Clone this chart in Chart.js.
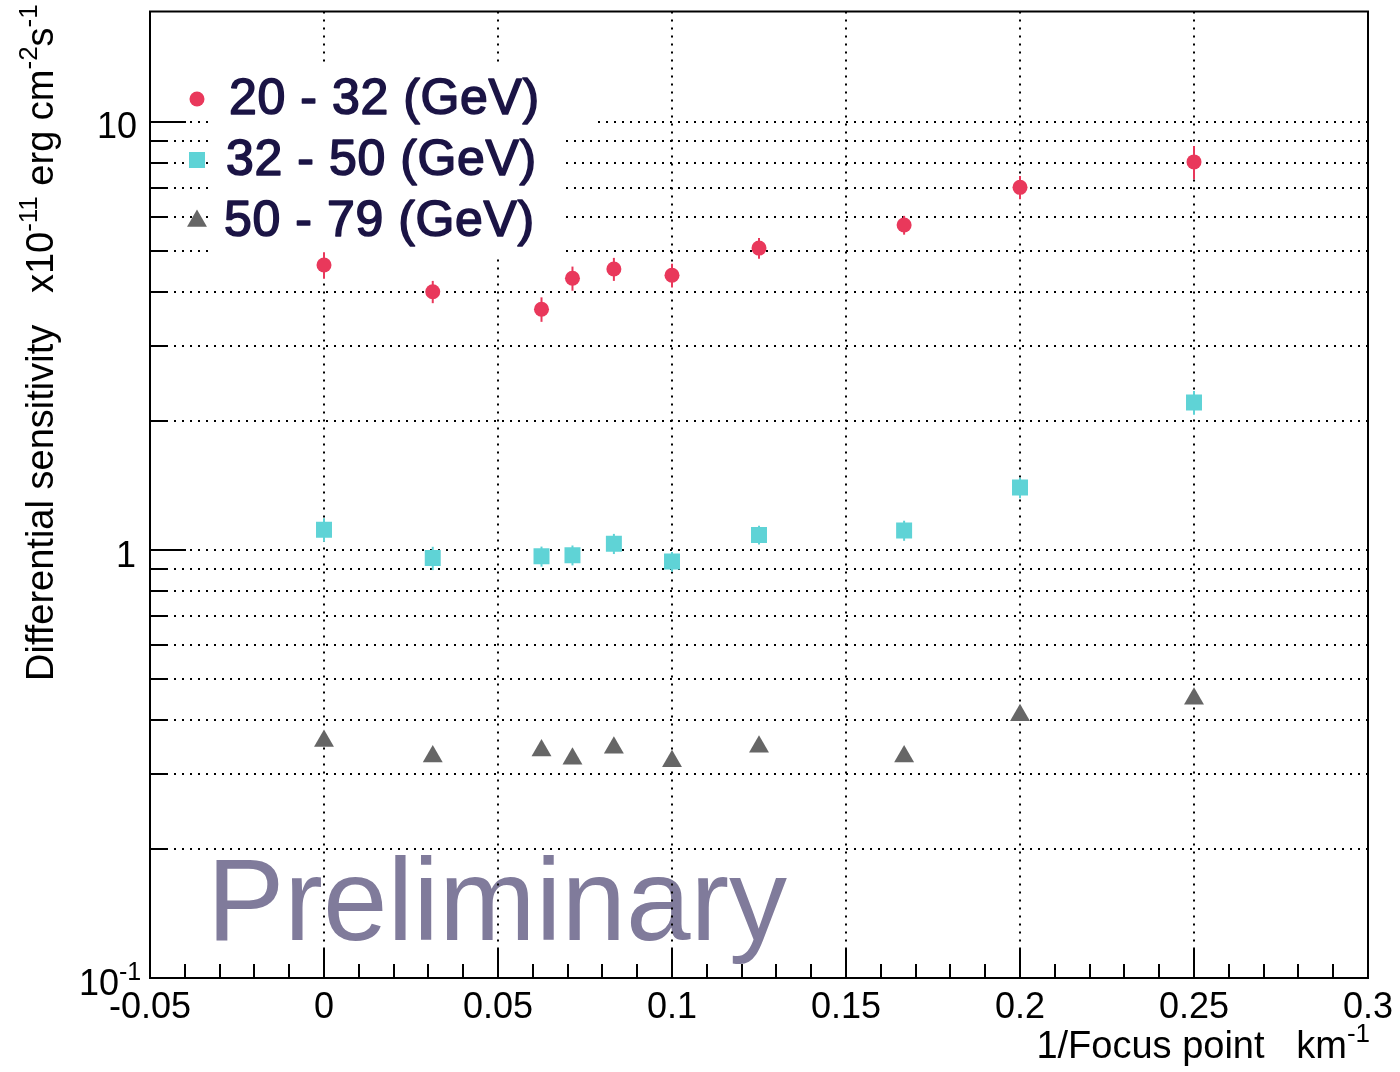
<!DOCTYPE html>
<html>
<head>
<meta charset="utf-8">
<title>Differential sensitivity vs 1/Focus point</title>
<script src="https://cdn.jsdelivr.net/npm/chart.js@4.4.1/dist/chart.umd.min.js"></script>
<style>
  html, body { margin: 0; padding: 0; background: #fff; }
  #wrap { width: 1400px; height: 1072px; }
</style>
</head>
<body>
<div id="wrap"><canvas id="sens-chart" width="1400" height="1072"></canvas></div>
<script>
// 1/focus point (km^-1): 0 = infinity, then 32, 16, 14, 12, 10, 8, 6, 5, 4 km
const focusInv = [0, 0.03125, 0.0625, 0.0714, 0.0833, 0.1, 0.125, 0.1667, 0.2, 0.25];

// differential sensitivity, x1e-11 erg cm^-2 s^-1
const sens20to32 = [4.63, 4.01, 3.65, 4.31, 4.53, 4.38, 5.07, 5.74, 7.03, 8.06];
const err20to32  = [0.33, 0.24, 0.24, 0.28, 0.28, 0.28, 0.28, 0.29, 0.44, 0.72];
const sens32to50 = [1.115, 0.957, 0.966, 0.972, 1.034, 0.939, 1.084, 1.110, 1.398, 2.21];
const err32to50  = [0.07, 0.06, 0.052, 0.052, 0.056, 0.05, 0.055, 0.06, 0.077, 0.14];
const sens50to79 = [0.358, 0.329, 0.340, 0.325, 0.345, 0.321, 0.347, 0.329, 0.411, 0.449];
const err50to79  = [0.008, 0.008, 0.008, 0.008, 0.008, 0.008, 0.008, 0.008, 0.009, 0.01];

const seriesLabels = ['20 - 32 (GeV)', '32 - 50 (GeV)', '50 - 79 (GeV)'];

// axes
const xMin = -0.05, xMax = 0.3;
const yMin = 0.1, yMax = 18.1;
const xTicks = [-0.05, 0, 0.05, 0.1, 0.15, 0.2, 0.25, 0.3];
const xTickLabels = ['-0.05', '0', '0.05', '0.1', '0.15', '0.2', '0.25', '0.3'];
const xMinorStep = 0.01;
const yMajorTicks = [0.1, 1, 10];
const yMinorTicks = [0.2, 0.3, 0.4, 0.5, 0.6, 0.7, 0.8, 0.9, 2, 3, 4, 5, 6, 7, 8, 9];

const FONT = '"Liberation Sans", Arial, Helvetica, sans-serif';
const RED = '#e9385b';
const CYAN = '#5fd3d6';
const GREY = '#666666';
const NAVY = '#1b1445';

const styles = [
    { color: RED, pointStyle: 'circle', radius: 7.5 },
    { color: CYAN, pointStyle: 'rect', radius: 11.3 },
    { color: GREY, pointStyle: 'triangle', radius: 11.5 }
];
const values = [sens20to32, sens32to50, sens50to79];
const errors = [err20to32, err32to50, err50to79];

function toPoints(ys) {
    return focusInv.map((x, i) => ({ x: x, y: ys[i] }));
}

function line(ctx, x1, y1, x2, y2) {
    ctx.beginPath();
    ctx.moveTo(x1, y1);
    ctx.lineTo(x2, y2);
    ctx.stroke();
}

function marker(ctx, style, cx, cy) {
    const r = style.radius;
    ctx.fillStyle = style.color;
    ctx.beginPath();
    if (style.pointStyle === 'circle') {
        ctx.arc(cx, cy, r, 0, Math.PI * 2);
    } else if (style.pointStyle === 'rect') {
        const h = r * Math.SQRT1_2;
        ctx.rect(cx - h, cy - h, 2 * h, 2 * h);
    } else {
        for (let k = 0; k < 3; k++) {
            const a = k * 2 * Math.PI / 3;
            const px = cx + Math.sin(a) * r, py = cy - Math.cos(a) * r;
            if (k === 0) ctx.moveTo(px, py); else ctx.lineTo(px, py);
        }
        ctx.closePath();
    }
    ctx.fill();
}

// text with trailing superscripts: parts = [[text, isSup], ...]
function partsWidth(ctx, parts, size, supSize) {
    let w = 0;
    parts.forEach(p => {
        ctx.font = (p[1] ? supSize : size) + 'px ' + FONT;
        w += ctx.measureText(p[0]).width;
    });
    return w;
}

function drawParts(ctx, parts, x, y, size, supSize, rise) {
    let cx = x;
    parts.forEach(p => {
        ctx.font = (p[1] ? supSize : size) + 'px ' + FONT;
        ctx.fillText(p[0], cx, p[1] ? y - rise : y);
        cx += ctx.measureText(p[0]).width;
    });
}

const rootStyle = {
    id: 'rootStyle',
    beforeDraw(chart) {
        const ctx = chart.ctx;
        ctx.save();
        ctx.fillStyle = '#fff';
        ctx.fillRect(0, 0, chart.width, chart.height);
        // watermark sits under the grid
        ctx.fillStyle = '#807b9b';
        ctx.font = '116px ' + FONT;
        ctx.textAlign = 'left';
        ctx.textBaseline = 'alphabetic';
        ctx.fillText('Preliminary', 207, 940);
        ctx.restore();
    },
    beforeDatasetsDraw(chart) {
        const { ctx, chartArea: a, scales: { x, y } } = chart;
        ctx.save();

        // dotted grid
        ctx.strokeStyle = '#000';
        ctx.lineWidth = 2;
        ctx.setLineDash([2, 6]);
        xTicks.forEach(v => {
            const px = Math.round(x.getPixelForValue(v));
            if (px > a.left + 2 && px < a.right - 2) line(ctx, px, a.top, px, a.bottom);
        });
        yMajorTicks.concat(yMinorTicks).forEach(v => {
            const py = Math.round(y.getPixelForValue(v));
            if (py > a.top + 2 && py < a.bottom - 2) line(ctx, a.left, py, a.right, py);
        });
        ctx.setLineDash([]);

        // legend backdrop
        ctx.fillStyle = '#fff';
        ctx.fillRect(214, 62, 348, 192);
        ctx.fillRect(562, 62, 30, 68);

        // vertical error bars
        ctx.lineWidth = 2;
        values.forEach((ys, s) => {
            ctx.strokeStyle = styles[s].color;
            ys.forEach((v, i) => {
                const px = x.getPixelForValue(focusInv[i]);
                line(ctx, px, y.getPixelForValue(v + errors[s][i]), px, y.getPixelForValue(v - errors[s][i]));
            });
        });
        ctx.restore();
    },
    afterDatasetsDraw(chart) {
        const { ctx, chartArea: a, scales: { x, y } } = chart;
        ctx.save();

        // frame
        ctx.strokeStyle = '#000';
        ctx.lineWidth = 2;
        ctx.strokeRect(a.left, a.top, a.right - a.left, a.bottom - a.top);

        // ticks, drawn inward
        for (let v = xMin; v <= xMax + 1e-9; v += xMinorStep) {
            const px = Math.round(x.getPixelForValue(v));
            const isMajor = xTicks.some(t => Math.abs(t - v) < 1e-6);
            line(ctx, px, a.bottom, px, a.bottom - (isMajor ? 29 : 14));
        }
        yMajorTicks.forEach(v => {
            const py = Math.round(y.getPixelForValue(v));
            line(ctx, a.left, py, a.left + 36, py);
        });
        yMinorTicks.forEach(v => {
            const py = Math.round(y.getPixelForValue(v));
            line(ctx, a.left, py, a.left + 17, py);
        });

        // tick labels
        ctx.fillStyle = '#000';
        ctx.font = '36px ' + FONT;
        ctx.textBaseline = 'alphabetic';
        ctx.textAlign = 'center';
        xTicks.forEach((v, i) => {
            ctx.fillText(xTickLabels[i], x.getPixelForValue(v), a.bottom + 40);
        });
        ctx.textAlign = 'right';
        ctx.fillText('10', 137, y.getPixelForValue(10) + 16);
        ctx.fillText('1', 136, y.getPixelForValue(1) + 17);
        ctx.fillText('10', 119, y.getPixelForValue(0.1) + 17);
        ctx.textAlign = 'left';
        ctx.font = '25px ' + FONT;
        ctx.fillText('-1', 119, y.getPixelForValue(0.1) + 2);

        // x title, right aligned to the frame
        const xParts = [['1/Focus point   km', false], ['-1', true]];
        const xw = partsWidth(ctx, xParts, 38, 26);
        drawParts(ctx, xParts, a.right + 2 - xw, 1058, 38, 26, 16);

        // y title, rotated
        ctx.translate(53, 681);
        ctx.rotate(-Math.PI / 2);
        drawParts(ctx, [
            ['Differential sensitivity   x10', false], ['-11', true],
            [' erg cm', false], ['-2', true], ['s', false], ['-1', true]
        ], 0, 0, 38, 26, 16);
        ctx.setTransform(1, 0, 0, 1, 0, 0);

        // legend entries: medium-weight text = regular fill plus a thin outline
        const rows = [99, 160, 221];
        const textX = [229, 226, 224];
        rows.forEach((ry, i) => {
            marker(ctx, styles[i], 197, ry);
            ctx.fillStyle = NAVY;
            ctx.strokeStyle = NAVY;
            ctx.lineWidth = 1.6;
            ctx.lineJoin = 'round';
            ctx.font = '50px ' + FONT;
            ctx.letterSpacing = '0.6px';
            ctx.textAlign = 'left';
            ctx.fillText(seriesLabels[i], textX[i], ry + 15);
            ctx.strokeText(seriesLabels[i], textX[i], ry + 15);
            ctx.letterSpacing = '0px';
        });
        ctx.restore();
    }
};

const datasets = values.map((ys, s) => ({
    label: seriesLabels[s],
    data: toPoints(ys),
    pointStyle: styles[s].pointStyle,
    pointRadius: styles[s].radius,
    pointBackgroundColor: styles[s].color,
    pointBorderColor: styles[s].color,
    pointBorderWidth: 0,
    showLine: false
}));

new Chart(document.getElementById('sens-chart'), {
    type: 'scatter',
    data: { datasets: datasets },
    options: {
        responsive: false,
        animation: false,
        layout: { padding: { left: 150, top: 10, right: 32, bottom: 94 } },
        plugins: {
            legend: { display: false },
            tooltip: { enabled: false }
        },
        scales: {
            x: { type: 'linear', min: xMin, max: xMax, display: false },
            y: { type: 'logarithmic', min: yMin, max: yMax, display: false }
        }
    },
    plugins: [rootStyle]
});
</script>
</body>
</html>
